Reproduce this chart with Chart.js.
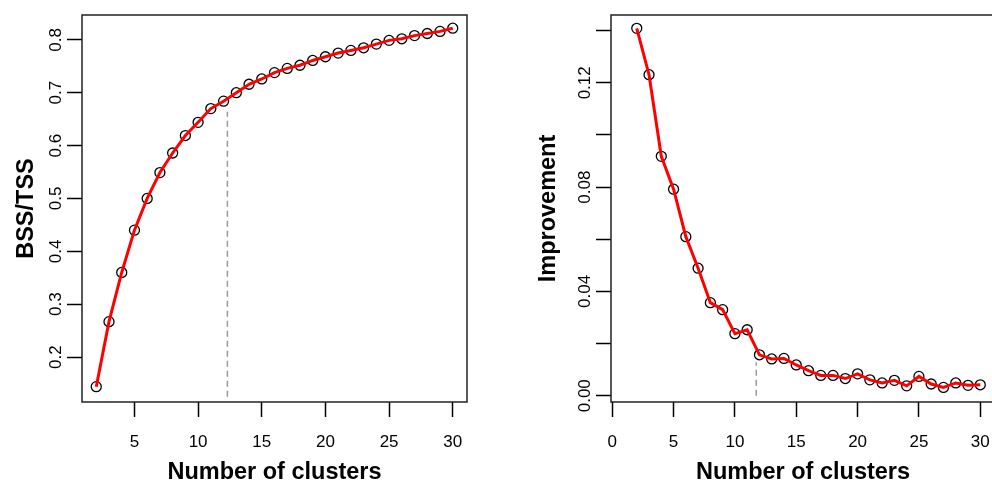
<!DOCTYPE html>
<html>
<head>
<meta charset="utf-8">
<script src="https://cdn.jsdelivr.net/npm/chart.js@4.4.0/dist/chart.umd.min.js"></script>
<style>
    html, body { margin: 0; padding: 0; background: #fff; overflow: hidden; width: 992px; height: 483px; }
    #wrapLeft { position: absolute; left: 0; top: 0; width: 496px; height: 483px; }
    #wrapRight { position: absolute; left: 520px; top: 0; width: 520px; height: 483px; }
</style>
</head>
<body>
<div id="wrapLeft"><canvas id="bssChart" width="496" height="483"></canvas></div>
<div id="wrapRight"><canvas id="impChart" width="520" height="483"></canvas></div>
<script>
const ctx = document.getElementById('bssChart');
const cty = document.getElementById('impChart');

// number of clusters (x) for both panels
const clusters = [2, 3, 4, 5, 6, 7, 8, 9, 10, 11, 12, 13, 14, 15, 16, 17, 18, 19, 20, 21, 22, 23, 24, 25, 26, 27, 28, 29, 30];
const bssTss = [0.144, 0.267, 0.360, 0.440, 0.500, 0.549, 0.586, 0.619, 0.644, 0.670, 0.684, 0.700, 0.716, 0.726, 0.738,
    0.746, 0.752, 0.761, 0.768, 0.775, 0.780, 0.785, 0.792, 0.799, 0.802, 0.808, 0.812, 0.816, 0.822];
const improvement = [0.1409, 0.1231, 0.0918, 0.0792, 0.0610, 0.0489, 0.0357, 0.0330, 0.0238, 0.0253, 0.0157, 0.0141, 0.0143,
    0.0118, 0.0096, 0.0078, 0.0078, 0.0066, 0.0084, 0.0061, 0.0049, 0.0059, 0.0038, 0.0074, 0.0045, 0.0032, 0.0049, 0.0040, 0.0042];

// dashed cut-off markers (x, y from, y to)
const bssCutX = [12.3, 12.3];
const bssCutY = [0.125, 0.664];
const impCutX = [11.74, 11.74];
const impCutY = [0.0, 0.0128];

const bssTicksX = [5, 10, 15, 20, 25, 30];
const impTicksX = [0, 5, 10, 15, 20, 25, 30];

const FONT = '"Liberation Sans", Arial, Helvetica, sans-serif';
const TICK_SIZE = 17;
const TITLE_SIZE = 23.5;

function toPoints(xs, ys) {
    let pts = [];
    for (let i = 0; i < xs.length; i++) pts.push({ x: xs[i], y: ys[i] });
    return pts;
}

// R-style frame + rotated y tick labels
const rFrame = {
    id: 'rFrame',
    afterDraw(chart, args, opts) {
        const c = chart.ctx;
        const a = chart.chartArea;
        c.save();
        c.strokeStyle = '#222';
        c.lineWidth = 1.5;
        c.strokeRect(a.left, a.top, a.right - a.left, a.bottom - a.top);
        const ys = chart.scales.y;
        c.font = TICK_SIZE + 'px ' + FONT;
        c.fillStyle = '#000';
        c.textAlign = 'center';
        c.textBaseline = 'middle';
        ys.ticks.forEach(function (t, i) {
            const label = opts.fmt(t.value, i);
            if (!label) return;
            c.save();
            c.translate(a.left - 26, ys.getPixelForValue(t.value));
            c.rotate(-Math.PI / 2);
            c.fillText(label, 0, 0);
            c.restore();
        });
        c.restore();
    }
};

function make_chart(el, opt) {
    return new Chart(el, {
        type: 'line',
        data: {
            datasets: [
                {
                    data: toPoints(opt.xs, opt.ys),
                    borderColor: '#ff0000',
                    borderWidth: 3,
                    pointRadius: 0,
                    tension: 0,
                    fill: false,
                    order: 0
                },
                {
                    data: toPoints(opt.xs, opt.ys),
                    showLine: false,
                    pointRadius: 5,
                    pointBorderWidth: 1.3,
                    pointBorderColor: '#000',
                    pointBackgroundColor: 'rgba(0,0,0,0)',
                    order: 1
                },
                {
                    data: toPoints(opt.cutX, opt.cutY),
                    borderColor: '#999999',
                    borderWidth: 1.5,
                    borderDash: [6, 4],
                    pointRadius: 0,
                    order: 2
                }
            ]
        },
        options: {
            responsive: false,
            animation: false,
            devicePixelRatio: 1,
            layout: { padding: opt.padding },
            plugins: {
                legend: { display: false },
                tooltip: { enabled: false },
                rFrame: { fmt: opt.yFmt }
            },
            scales: {
                x: {
                    type: 'linear',
                    min: opt.xMin,
                    max: opt.xMax,
                    afterBuildTicks: function (s) { s.ticks = opt.xTicks.map(v => ({ value: v })); },
                    afterFit: function (s) { s.height = 81; },
                    grid: { drawOnChartArea: false, drawTicks: true, tickLength: 15, tickColor: '#000', tickWidth: 1.5 },
                    border: { display: false },
                    ticks: { color: '#000', font: { family: FONT, size: TICK_SIZE }, padding: 15, maxRotation: 0, autoSkip: false },
                    title: {
                        display: true,
                        text: 'Number of clusters',
                        color: '#000',
                        font: { family: FONT, size: TITLE_SIZE, weight: 'bold', lineHeight: 1 },
                        padding: { top: 0, bottom: -1 }
                    }
                },
                y: {
                    type: 'linear',
                    min: opt.yMin,
                    max: opt.yMax,
                    afterFit: function (s) { s.width = opt.yWidth; },
                    grid: { drawOnChartArea: false, drawTicks: true, tickLength: 15, tickColor: '#000', tickWidth: 1.5 },
                    border: { display: false },
                    ticks: { stepSize: opt.yStep, includeBounds: false, color: 'rgba(0,0,0,0)', font: { family: FONT, size: TICK_SIZE } },
                    title: {
                        display: true,
                        text: opt.yTitle,
                        color: '#000',
                        font: { family: FONT, size: TITLE_SIZE, weight: 'bold', lineHeight: 1 },
                        padding: { top: opt.yTitlePad, bottom: 0 }
                    }
                }
            }
        },
        plugins: [rFrame]
    });
}

make_chart(ctx, {
    xs: clusters, ys: bssTss, cutX: bssCutX, cutY: bssCutY,
    xMin: 0.88, xMax: 31.12, xTicks: bssTicksX,
    yMin: 0.115, yMax: 0.847, yStep: 0.1,
    yFmt: function (v) { return v.toFixed(1); },
    yTitle: 'BSS/TSS', yTitlePad: 15, yWidth: 82,
    padding: { left: 0, top: 15, right: 29, bottom: 0 }
});

make_chart(cty, {
    xs: clusters, ys: improvement, cutX: impCutX, cutY: impCutY,
    xMin: -0.1, xMax: 31.2, xTicks: impTicksX,
    yMin: -0.0024, yMax: 0.146, yStep: 0.02,
    yFmt: function (v, i) { return i % 2 === 0 ? v.toFixed(2) : ''; },
    yTitle: 'Improvement', yTitlePad: 17, yWidth: 91,
    padding: { left: 0, top: 15, right: 45, bottom: 0 }
});
</script>
</body>
</html>
